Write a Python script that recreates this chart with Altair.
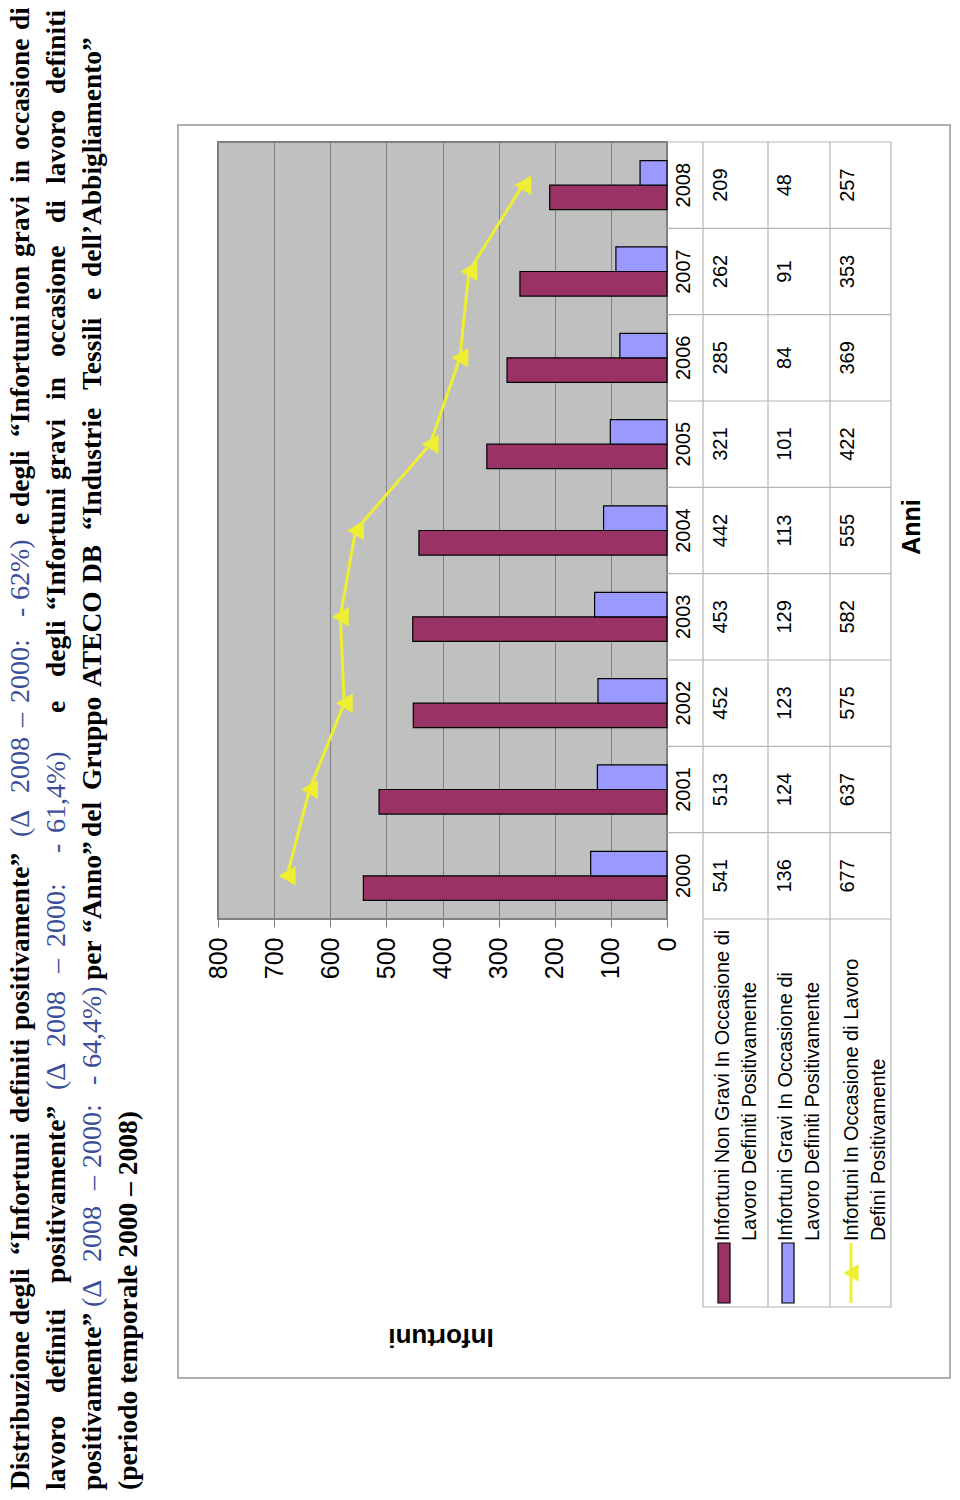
import altair as alt
import pandas as pd

# ---------------- data ----------------
years = ["2000", "2001", "2002", "2003", "2004", "2005", "2006", "2007", "2008"]
non_gravi = [541, 513, 452, 453, 442, 321, 285, 262, 209]
gravi = [136, 124, 123, 129, 113, 101, 84, 91, 48]
totale = [677, 637, 575, 582, 555, 422, 369, 353, 257]
x_ticks = [0, 100, 200, 300, 400, 500, 600, 700, 800]
serie_non_gravi = "Infortuni Non Gravi In Occasione di Lavoro Definiti Positivamente"
serie_gravi = "Infortuni Gravi In Occasione di Lavoro Definiti Positivamente"
serie_totale = "Infortuni In Occasione di Lavoro Defini Positivamente"

legend_lines = [
    ["Infortuni Non Gravi In Occasione di", "Lavoro Definiti Positivamente"],
    ["Infortuni Gravi In Occasione di", "Lavoro Definiti Positivamente"],
    ["Infortuni In Occasione di Lavoro", "Defini Positivamente"],
]

# title words: (text, start position along the rotated line, style)
title_lines = [
    [("Distribuzione", 1490, "b"), ("degli", 1325, "b"), ("\u201cInfortuni", 1255, "b"),
     ("definiti", 1123, "b"), ("positivamente\u201d", 1030, "b"),
     ("(\u0394", 837, "c"), ("2008", 793, "c"), ("\u2013", 727, "c"), ("2000:", 703, "c"),
     ("-", 617, "c"), ("62%)", 600, "c"),
     ("e", 525, "b"), ("degli", 507, "b"), ("\u201cInfortuni", 437, "b"), ("non", 310, "b"),
     ("gravi", 257, "b"), ("in", 183, "b"), ("occasione", 150, "b"), ("di", 30, "b")],
    [("lavoro", 1490, "b"), ("definiti", 1393, "b"), ("positivamente\u201d", 1283, "b"),
     ("(\u0394", 1090, "c"), ("2008", 1047, "c"), ("\u2013", 973, "c"), ("2000:", 947, "c"),
     ("-", 853, "c"), ("61,4%)", 833, "c"),
     ("e", 713, "b"), ("degli", 677, "b"), ("\u201cInfortuni", 610, "b"), ("gravi", 480, "b"),
     ("in", 400, "b"), ("occasione", 357, "b"), ("di", 223, "b"), ("lavoro", 184, "b"),
     ("definiti", 94, "b")],
    [("positivamente\u201d", 1490, "b"),
     ("(\u0394", 1307, "c"), ("2008", 1262, "c"), ("\u2013", 1190, "c"), ("2000:", 1168, "c"),
     ("-", 1085, "c"), ("64,4%)", 1068, "c"),
     ("per", 980, "b"), ("\u201cAnno\u201d", 933, "b"), ("del", 837, "b"), ("Gruppo", 790, "b"),
     ("ATECO", 687, "b"), ("DB", 583, "b"), ("\u201cIndustrie", 530, "b"), ("Tessili", 390, "b"),
     ("e", 300, "b"), ("dell\u2019Abbigliamento\u201d", 277, "b")],
    [("(periodo temporale 2000 \u2013 2008)", 1490, "b")],
]

# ---------------- layout ----------------
W, H = 449, 777
OX, OY = 218, 142  # plot origin in page pixels
TOTAL_W, TOTAL_H = 944, 1482


def px(X):
    return X - OX


def py(Y):
    return Y - OY


MAROON = "#993366"
LAVENDER = "#9999FF"
YELLOW = "#EEEE33"
GRID = "#808080"
TABLE = "#B4B4B4"
BLUE = "#3B4E99"
SANS = "Liberation Sans"
SERIF = "Liberation Serif"

year_sort = list(reversed(years))
y_scale = alt.Scale(paddingInner=0, paddingOuter=0)


def y_enc(**kw):
    return alt.Y("year:O", sort=year_sort, scale=y_scale, axis=None, **kw)


x_scale = alt.Scale(domain=[0, 800], reverse=True, nice=False, zero=True)
x_axis = alt.Axis(values=x_ticks, labelAngle=270, labelFontSize=25, labelFont=SANS,
                  labelColor="black", tickColor=GRID, tickSize=8, labelPadding=10,
                  domain=False, grid=True, gridColor=GRID, gridWidth=1, title=None)

bars_df = pd.DataFrame({
    "year": years * 2,
    "serie": [serie_non_gravi] * len(years) + [serie_gravi] * len(years),
    "value": non_gravi + gravi,
})
line_df = pd.DataFrame({"year": years, "value": totale, "yr": [int(y) for y in years]})
table_df = pd.DataFrame({"year": years, "a": [str(v) for v in non_gravi],
                         "b": [str(v) for v in gravi], "c": [str(v) for v in totale]})

layers = []

# outer frame
layers.append(alt.Chart(pd.DataFrame({"k": [0]})).mark_rect(
    filled=False, stroke="#B0B0B0", strokeWidth=2).encode(
    x=alt.value(px(178)), x2=alt.value(px(950)), y=alt.value(py(125)), y2=alt.value(py(1378))))

# bars
layers.append(alt.Chart(bars_df).mark_bar(stroke="black", strokeWidth=1.2).encode(
    x=alt.X("value:Q", scale=x_scale, axis=x_axis),
    y=y_enc(),
    yOffset=alt.YOffset("serie:N", sort=[serie_gravi, serie_non_gravi],
                        scale=alt.Scale(paddingInner=0, paddingOuter=0.76)),
    color=alt.Color("serie:N", scale=alt.Scale(domain=[serie_non_gravi, serie_gravi],
                                               range=[MAROON, LAVENDER]), legend=None),
))

# line + markers
layers.append(alt.Chart(line_df).mark_line(color=YELLOW, strokeWidth=3).encode(
    x=alt.X("value:Q", scale=x_scale, axis=x_axis), y=y_enc(), order="yr:Q"))
layers.append(alt.Chart(line_df).mark_point(shape="triangle-left", filled=True, opacity=1,
                                            color=YELLOW, size=380).encode(
    x=alt.X("value:Q", scale=x_scale, axis=x_axis), y=y_enc()))

# table grid: horizontal (band boundaries)
layers.append(alt.Chart(table_df).mark_rule(color=TABLE, strokeWidth=1.2).encode(
    y=y_enc(bandPosition=0), x=alt.value(px(667)), x2=alt.value(px(891))))
layers.append(alt.Chart(table_df[table_df["year"] == years[0]]).mark_rule(
    color=TABLE, strokeWidth=1.2).encode(
    y=y_enc(bandPosition=1), x=alt.value(px(703)), x2=alt.value(px(891))))
layers.append(alt.Chart(pd.DataFrame({"k": [0]})).mark_rule(color=TABLE, strokeWidth=1.2).encode(
    y=alt.value(py(1307)), x=alt.value(px(703)), x2=alt.value(px(891))))
for X in [703, 768, 830, 891]:
    layers.append(alt.Chart(pd.DataFrame({"k": [0]})).mark_rule(
        color=TABLE, strokeWidth=1.2).encode(
        x=alt.value(px(X)), y=alt.value(py(142)), y2=alt.value(py(1307))))

# table texts
for field, X in [("year", 684), ("a", 721), ("b", 785), ("c", 848)]:
    layers.append(alt.Chart(table_df).mark_text(
        angle=270, align="center", baseline="middle", font=SANS, fontSize=20,
        color="black").encode(
        y=y_enc(), x=alt.value(px(X)), text=f"{field}:N"))

# legend swatches
layers.append(alt.Chart(pd.DataFrame({"k": [0]})).mark_rect(
    fill=MAROON, stroke="black", strokeWidth=1.2).encode(
    x=alt.value(px(718)), x2=alt.value(px(730)), y=alt.value(py(1243)), y2=alt.value(py(1303))))
layers.append(alt.Chart(pd.DataFrame({"k": [0]})).mark_rect(
    fill=LAVENDER, stroke="black", strokeWidth=1.2).encode(
    x=alt.value(px(782)), x2=alt.value(px(794)), y=alt.value(py(1243)), y2=alt.value(py(1303))))
layers.append(alt.Chart(pd.DataFrame({"k": [0]})).mark_rule(color=YELLOW, strokeWidth=3).encode(
    x=alt.value(px(851)), y=alt.value(py(1243)), y2=alt.value(py(1303))))
layers.append(alt.Chart(pd.DataFrame({"k": [0]})).mark_point(
    shape="triangle-left", filled=True, opacity=1, color=YELLOW, size=300).encode(
    x=alt.value(px(851)), y=alt.value(py(1273))))

# legend texts
legend_x = [(723, 750), (786, 813), (852, 879)]
for (l1, l2), (x1, x2) in zip(legend_lines, legend_x):
    for txt, X in [(l1, x1), (l2, x2)]:
        layers.append(alt.Chart(pd.DataFrame({"t": [txt]})).mark_text(
            angle=270, align="left", baseline="middle", font=SANS, fontSize=20,
            color="black").encode(x=alt.value(px(X)), y=alt.value(py(1241)), text="t:N"))

# axis titles
layers.append(alt.Chart(pd.DataFrame({"t": ["Infortuni"]})).mark_text(
    angle=180, align="center", baseline="middle", font=SANS, fontSize=26,
    fontWeight="bold", color="black").encode(
    x=alt.value(px(441)), y=alt.value(py(1337)), text="t:N"))
layers.append(alt.Chart(pd.DataFrame({"t": ["Anni"]})).mark_text(
    angle=270, align="center", baseline="middle", font=SANS, fontSize=25,
    fontWeight="bold", color="black").encode(
    x=alt.value(px(912)), y=alt.value(py(527)), text="t:N"))

# title (rotated, word by word)
line_baselines = [29, 65, 101, 137]
for base, words in zip(line_baselines, title_lines):
    for txt, Y, style in words:
        bold = style == "b"
        layers.append(alt.Chart(pd.DataFrame({"t": [txt]})).mark_text(
            angle=270, align="left", baseline="alphabetic", font=SERIF,
            fontSize=27.5 if bold else 28, fontWeight="bold" if bold else "normal",
            color="black" if bold else BLUE).encode(
            x=alt.value(px(base)), y=alt.value(py(Y)), text="t:N"))

chart = alt.layer(*layers).properties(
    width=W, height=H,
    autosize=alt.AutoSizeParams(type="none"),
    padding={"left": OX - 8, "top": OY - 8,
             "right": TOTAL_W - (OX - 8) - W, "bottom": TOTAL_H - (OY - 8) - H},
    background="white",
).configure_view(fill="#C0C0C0", stroke=GRID, strokeWidth=2)

chart.save("out.html", embed_options={"renderer": "svg", "actions": False})
